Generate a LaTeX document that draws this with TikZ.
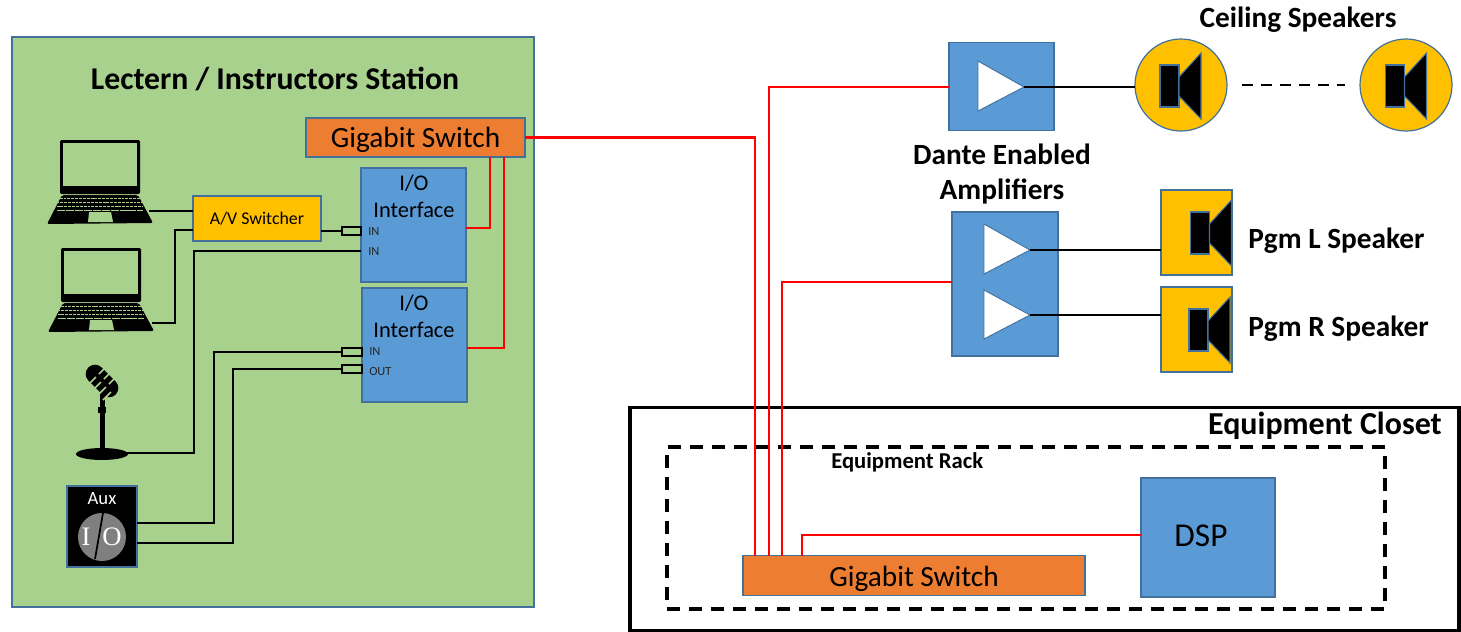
\documentclass[tikz,border=0pt]{standalone}
\usepackage{fontspec}
\setmainfont{Carlito}
\newfontfamily\auxserif{Liberation Serif}
\usetikzlibrary{calc}

\definecolor{stationgreen}{HTML}{A9D18E}
\definecolor{boxblue}{HTML}{5B9BD5}
\definecolor{edgeblue}{HTML}{41719C}
\definecolor{switchorange}{HTML}{ED7D31}
\definecolor{spkyellow}{HTML}{FFC000}
\definecolor{auxgray}{HTML}{7F7F7F}

\tikzset{
  sized/.style 2 args={minimum width=#1*0.75pt,minimum height=#2*0.75pt,inner sep=0pt,outer sep=0pt,anchor=north west},
  stationbox/.style={fill=stationgreen,draw=edgeblue,line width=0.9pt},
  bluebox/.style={fill=boxblue,draw=edgeblue,line width=0.9pt},
  orangebox/.style={fill=switchorange,draw=edgeblue,line width=0.9pt},
  yellowbox/.style={fill=spkyellow,draw=edgeblue,line width=0.9pt},
  blackline/.style={draw=black,line width=1.9pt},
  redline/.style={draw=red,line width=1.9pt},
  portbox/.style={draw=black,line width=1.5pt},
  txtbig/.style={font=\fontsize{22}{26}\selectfont},
  txtio/.style={font=\fontsize{16.8}{20}\selectfont},
  txtbold/.style={font=\fontsize{22}{26}\selectfont\bfseries},
  txtsmall/.style={font=\fontsize{9.3}{11}\selectfont,text=black!85,anchor=west,inner sep=0pt},
  laptop/.pic={
    \fill[black,rounded corners=1pt] (60,140) rectangle (140,194);
    \fill[stationgreen] (63,143) rectangle (137,186);
    \fill[black,rounded corners=1.5pt] (62,195) -- (138,195) -- (153,223) -- (47,224) -- cycle;
    \foreach \yk in {198,202,206}
      \draw[stationgreen,line width=0.7pt,dash pattern=on 2.2pt off 0.7pt] (\yk/10+36,\yk) -- (164-\yk/10,\yk);
    \draw[stationgreen,line width=0.7pt,dash pattern=on 6pt off 0.7pt] (57,210) -- (143,210);
    \fill[stationgreen] (89,212) -- (111,212) -- (113,222) -- (88,222) -- cycle;
  },
  spkcone/.pic={
    \fill[black,draw=edgeblue,line width=0.8pt] (0,0) rectangle (19,42);
    \fill[black,draw=edgeblue,line width=0.8pt] (19,12) -- (41,-12) -- (41,54) -- (19,31) -- cycle;
  },
}

\begin{document}
\begin{tikzpicture}[x=0.75pt,y=0.75pt,yscale=-1,xscale=1]
\useasboundingbox (0,0) rectangle (1461,632);

% Lectern side
\node[stationbox,sized={522}{570}] (station) at (12,37) {};
\node[txtbold,font=\fontsize{23.8}{28}\selectfont\bfseries] (stationtitle) at (275,79.5) {Lectern / Instructors Station};
\node[orangebox,sized={219}{39}] (gsw1) at (306,118) {};
\node[txtbig] (gsw1txt) at (415.5,139.5) {Gigabit Switch};
\node[bluebox,sized={105}{114}] (io1) at (361,168) {};
\node[bluebox,sized={105}{114}] (io2) at (362,288) {};
\node[txtio] (io1a) at (414,183) {I/O};
\node[txtio] (io1b) at (414,209.5) {Interface};
\node[txtio] (io2a) at (414,303) {I/O};
\node[txtio] (io2b) at (414,330) {Interface};
\node[txtsmall] (in1) at (368,231.5) {IN};
\node[txtsmall] (in2) at (368,251.5) {IN};
\node[txtsmall] (in3) at (369,352) {IN};
\node[txtsmall] (out1) at (369,371.5) {OUT};
\node[yellowbox,sized={128}{45},font=\fontsize{13.4}{16}\selectfont] (avsw) at (193,196) {A/V Switcher};

% Ports
\node[portbox,sized={19}{8}] (port1) at (342,227) {};
\node[portbox,sized={20}{8}] (port3) at (342,348) {};
\node[portbox,sized={20}{8}] (port4) at (342,365) {};

% Laptops
\pic[transform shape] (lap1) at (0,0) {laptop};
\pic[transform shape] (lap2) at (1,108) {laptop};
\coordinate (lap1out) at (149,211);
\coordinate (lap2out) at (152,323);
\coordinate (avin) at (193,230);
\coordinate (io1in2) at (361,251);

% Microphone
\fill[black] (99.5,392) rectangle (104.5,452);
\fill[black] (98,407) rectangle (106,413);
\fill[black] (102,454) ellipse (26 and 6);
\draw[black,line width=14pt,line cap=round] (95,374) -- (109,388);
\foreach \pp in {-5,0,5,10}
  \draw[stationgreen,line width=1.3pt] (102+\pp-9,381+\pp+9) -- (102+\pp-1,381+\pp+1);
\foreach \pp in {-5,0,5}
  \draw[stationgreen,line width=1.3pt] (102+\pp+2,381+\pp-2) -- (102+\pp+9,381+\pp-9);
\coordinate (micout) at (124,453);

% Aux box
\node[fill=black,draw=edgeblue,line width=0.9pt,sized={70}{81}] (aux) at (67,486) {};
\fill[auxgray] (102,537) circle (24);
\draw[black,line width=1.3pt] (103,513) -- (95,559);
\node[text=white,font=\fontsize{14}{17}\selectfont] (auxtxt) at (102,499) {Aux};
\node[text=white,font=\fontsize{20}{24}\selectfont\auxserif] (auxi) at (86,537) {I};
\node[text=white,font=\fontsize{20}{24}\selectfont\auxserif] (auxo) at (112,537) {O};
\coordinate (auxout1) at (137,523);
\coordinate (auxout2) at (137,543);

% Amplifiers
\node[bluebox,sized={105}{88}] (amp1) at (949,42.5) {};
\node[bluebox,sized={106}{144}] (amp2) at (952,212) {};
\filldraw[fill=white,draw=edgeblue,line width=0.7pt] (978,61) -- (978,111) -- (1024,87) -- cycle;
\filldraw[fill=white,draw=edgeblue,line width=0.7pt] (984,224) -- (984,274) -- (1030,250) -- cycle;
\filldraw[fill=white,draw=edgeblue,line width=0.7pt] (984,290) -- (984,339) -- (1030,315) -- cycle;
\coordinate (amp1out) at (1024,87);
\coordinate (amp2out1) at (1030,250);
\coordinate (amp2out2) at (1030,315);
\node[txtbold] (dante1) at (1002,154) {Dante Enabled};
\node[txtbold] (dante2) at (1002,191.5) {Amplifiers};

% Speakers
\node[circle,fill=spkyellow,draw=edgeblue,line width=0.9pt,minimum size=69pt,inner sep=0pt,outer sep=0pt] (ceil1) at (1181,85) {};
\node[circle,fill=spkyellow,draw=edgeblue,line width=0.9pt,minimum size=69pt,inner sep=0pt,outer sep=0pt] (ceil2) at (1406,85) {};
\pic[transform shape] (cone1) at (1160,65) {spkcone};
\pic[transform shape] (cone2) at (1385.5,65) {spkcone};
\node[txtbold] (ceiltxt) at (1298,20) {Ceiling Speakers};
\node[yellowbox,sized={71}{85}] (pgml) at (1161,190) {};
\node[yellowbox,sized={71}{85}] (pgmr) at (1161,287) {};
\pic[transform shape] (cone3) at (1190.5,212) {spkcone};
\pic[transform shape] (cone4) at (1189,309) {spkcone};
\node[txtbold,anchor=west,inner sep=0pt] (pgmltxt) at (1248,241) {Pgm L Speaker};
\node[txtbold,anchor=west,inner sep=0pt] (pgmrtxt) at (1248,329) {Pgm R Speaker};

% Closet
\node[draw=black,line width=2.4pt,sized={829}{223}] (closet) at (630,407.5) {};
\node[draw=black,line width=2.6pt,dash pattern=on 10pt off 6.5pt,sized={718}{162}] (rack) at (667,447) {};
\node[txtbold,font=\fontsize{24}{28}\selectfont\bfseries,anchor=east,inner sep=0pt] (closettxt) at (1442,426) {Equipment Closet};
\node[font=\fontsize{17}{20}\selectfont\bfseries,anchor=west,inner sep=0pt] (racktxt) at (831,462) {Equipment Rack};
\node[bluebox,sized={134}{119}] (dsp) at (1141,478) {};
\node[font=\fontsize{25}{30}\selectfont] (dsptxt) at (1201,536) {DSP};
\node[orangebox,sized={342}{40}] (gsw2) at (743,555.5) {};
\node[txtbig] (gsw2txt) at (914,578.5) {Gigabit Switch};
\coordinate (gsw2a) at (755,555.5);
\coordinate (gsw2b) at (769,555.5);
\coordinate (gsw2c) at (782,555.5);
\coordinate (gsw2d) at (802,555.5);

% Black connectors
\draw[blackline] (lap1out) -- (lap1out -| avsw.west);
\draw[blackline] (lap2out) -- (175,323) |- (avin);
\draw[blackline] (port1.west |- 321,231) -- (321,231);
\draw[blackline] (micout) -- (194,453) |- (io1in2);
\draw[blackline] (auxout1) -- (214,523) |- (port3.west);
\draw[blackline] (auxout2) -- (233,543) |- (port4.west);
\draw[blackline] (amp1out) -- (amp1out -| ceil1.west);
\draw[blackline] (amp2out1) -- (amp2out1 -| pgml.west);
\draw[blackline] (amp2out2) -- (amp2out2 -| pgmr.west);
\draw[black,line width=1.5pt,dash pattern=on 8.2pt off 6pt] (ceil1.east) ++(15,0) -- ($(ceil2.west)+(-15,0)$);

% Red connectors
\coordinate (io1red) at (466,228);
\coordinate (io2red) at (467,348);
\draw[redline] (gsw1.east) -| (gsw2a);
\draw[redline] (amp1.west |- amp1out) -| (gsw2b);
\draw[redline] (amp2.west |- 0,282) -| (gsw2c);
\draw[redline] (dsp.west |- 0,535) -| (gsw2d);
\draw[redline] (io1red) -| (gsw1.south -| 490,0);
\draw[redline] (io2red) -| (gsw1.south -| 504,0);
\end{tikzpicture}
\end{document}
